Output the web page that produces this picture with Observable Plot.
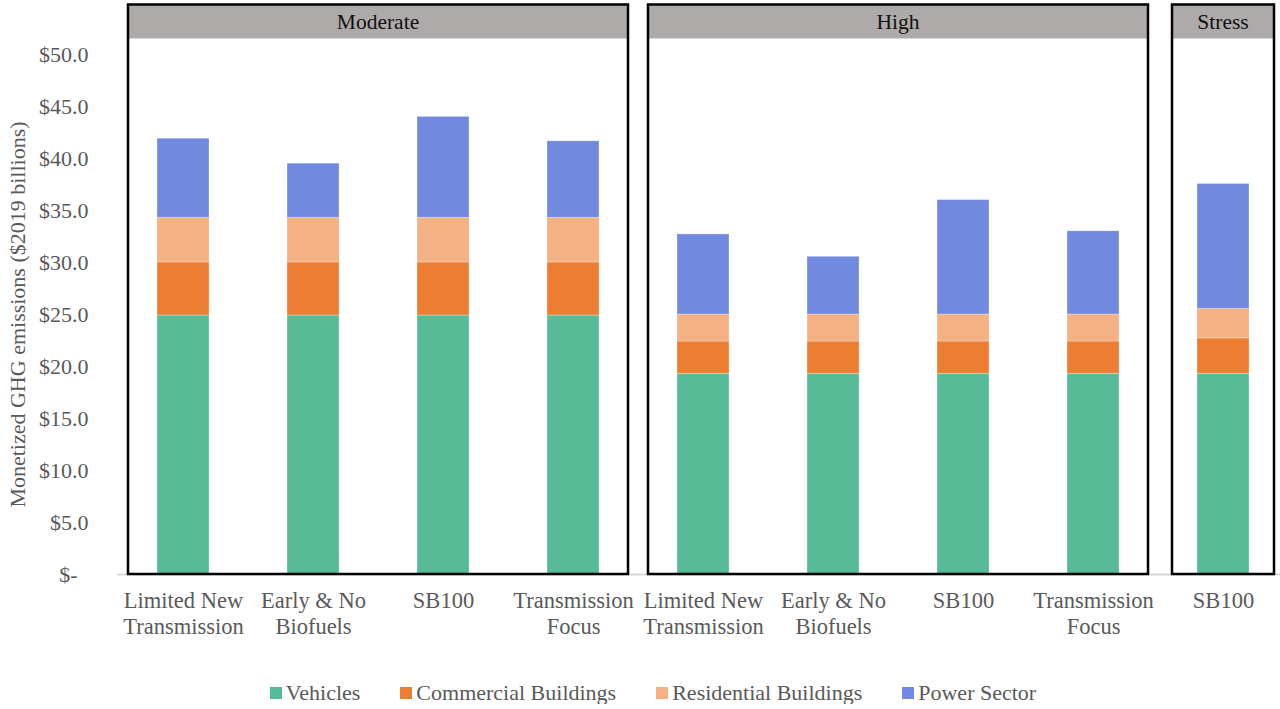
<!DOCTYPE html>
<html>
<head>
<meta charset="utf-8">
<script src="https://cdn.jsdelivr.net/npm/d3@7"></script>
<script src="https://cdn.jsdelivr.net/npm/@observablehq/plot@0.6"></script>
<style>
  html, body { margin: 0; padding: 0; background: #fff; }
  #chart { width: 1280px; }
  .legend {
    display: flex; justify-content: center; align-items: center; gap: 40px;
    margin-top: 22px; height: 22px; padding-left: 26px;
    font-family: "Liberation Serif", "Times New Roman", serif; font-size: 22px; color: #595959;
  }
  .legend .item { display: flex; align-items: center; gap: 4px; }
  .legend .sw { width: 12px; height: 12px; display: inline-block; }
</style>
</head>
<body>
<div id="chart"></div>
<script>
// Monetized GHG emissions by scenario and pathway ($2019 billions)
const scenarios = ["Moderate", "Moderate", "Moderate", "Moderate", "High", "High", "High", "High", "Stress"];
const pathways = [
  "Limited New\nTransmission", "Early & No\nBiofuels", "SB100", "Transmission\nFocus",
  "Limited New\nTransmission", "Early & No\nBiofuels", "SB100", "Transmission\nFocus",
  "SB100"
];
const sectors = ["Vehicles", "Commercial Buildings", "Residential Buildings", "Power Sector"];
const sectorColors = ["#57BB98", "#ED7D31", "#F4B183", "#718ADF"];

const vehicles    = [24.9, 24.9, 24.9, 24.9, 19.3, 19.3, 19.3, 19.3, 19.3];
const commercial  = [5.1, 5.1, 5.1, 5.1, 3.1, 3.1, 3.1, 3.1, 3.4];
const residential = [4.3, 4.3, 4.3, 4.3, 2.6, 2.6, 2.6, 2.6, 2.85];
const power       = [7.6, 5.2, 9.7, 7.35, 7.7, 5.55, 11.0, 8.0, 12.0];

const yTicks = [0, 5, 10, 15, 20, 25, 30, 35, 40, 45, 50];
const yLabel = "Monetized GHG emissions ($2019 billions)";

// one x band per bar; the key keeps repeated pathway names apart
const keys = scenarios.map((s, i) => `${s}|${i}`);
const labelByKey = new Map(keys.map((k, i) => [k, pathways[i]]));
const seriesValues = [vehicles, commercial, residential, power];

const rows = [];
keys.forEach((key, i) => {
  sectors.forEach((sector, k) => {
    rows.push({key, scenario: scenarios[i], sector, value: seriesValues[k][i]});
  });
});

const font = "'Liberation Serif', 'Times New Roman', serif";

const plot = Plot.plot({
  width: 1280,
  height: 660,
  marginLeft: 130,
  marginRight: 4.5,
  marginTop: 54,
  marginBottom: 86,
  style: {fontFamily: font, fontSize: "22px", color: "#595959", background: "white", overflow: "visible"},
  x: {domain: keys, paddingInner: 0.6, paddingOuter: 0.2, axis: null},
  y: {domain: [0, 50], axis: null},
  color: {domain: sectors, range: sectorColors},
  marks: [
    Plot.axisX({
      tickSize: 0, tickPadding: 15, lineHeight: 1.15, fontSize: 22.5,
      tickFormat: (k) => labelByKey.get(k), label: null
    }),
    Plot.axisY({
      ticks: yTicks, tickSize: 0, tickPadding: 42, fontSize: 22,
      tickFormat: (d) => d === 0 ? "$-\u00a0\u00a0" : "$" + d.toFixed(1),
      label: yLabel, labelAnchor: "center", labelOffset: 121, labelArrow: "none"
    }),
    Plot.ruleY([0], {stroke: "#D9D9D9", strokeWidth: 2, insetLeft: -13, insetRight: -4.5}),
    Plot.barY(rows, {x: "key", y: "value", fill: "sector", order: sectors, stroke: "#fff", strokeOpacity: 0.35, strokeWidth: 0.8})
  ]
});

// scenario panels: a framed box with a shaded title strip, spanning its bars
const xs = plot.scale("x");
const ys = plot.scale("y");
const panelPad = {Moderate: 29, High: 29, Stress: 25};
const frameTop = 4.5;
const headerHeight = 34;
const svg = d3.select(plot);
const groups = d3.groups(keys.map((k, i) => ({k, s: scenarios[i]})), (d) => d.s);
const g = svg.append("g").attr("class", "panels");
for (const [scenario, items] of groups) {
  const pad = panelPad[scenario];
  const left = xs.apply(items[0].k) - pad;
  const right = xs.apply(items[items.length - 1].k) + xs.bandwidth + pad;
  const bottom = ys.apply(0);
  g.append("rect")
    .attr("x", left).attr("y", frameTop)
    .attr("width", right - left).attr("height", headerHeight)
    .attr("fill", "#AEAAAA");
  g.append("text")
    .attr("x", (left + right) / 2).attr("y", frameTop + headerHeight / 2)
    .attr("text-anchor", "middle").attr("dominant-baseline", "central")
    .attr("fill", "#111").attr("font-size", 21.5).attr("font-family", font)
    .text(scenario);
  g.append("rect")
    .attr("x", left).attr("y", frameTop)
    .attr("width", right - left).attr("height", bottom - frameTop)
    .attr("fill", "none").attr("stroke", "#000").attr("stroke-width", 2.5);
}

document.getElementById("chart").appendChild(plot);

// legend below the chart
const legend = d3.select("#chart").append("div").attr("class", "legend");
sectors.forEach((name, i) => {
  const item = legend.append("div").attr("class", "item");
  item.append("span").attr("class", "sw").style("background", sectorColors[i]);
  item.append("span").text(name);
});
</script>
</body>
</html>
